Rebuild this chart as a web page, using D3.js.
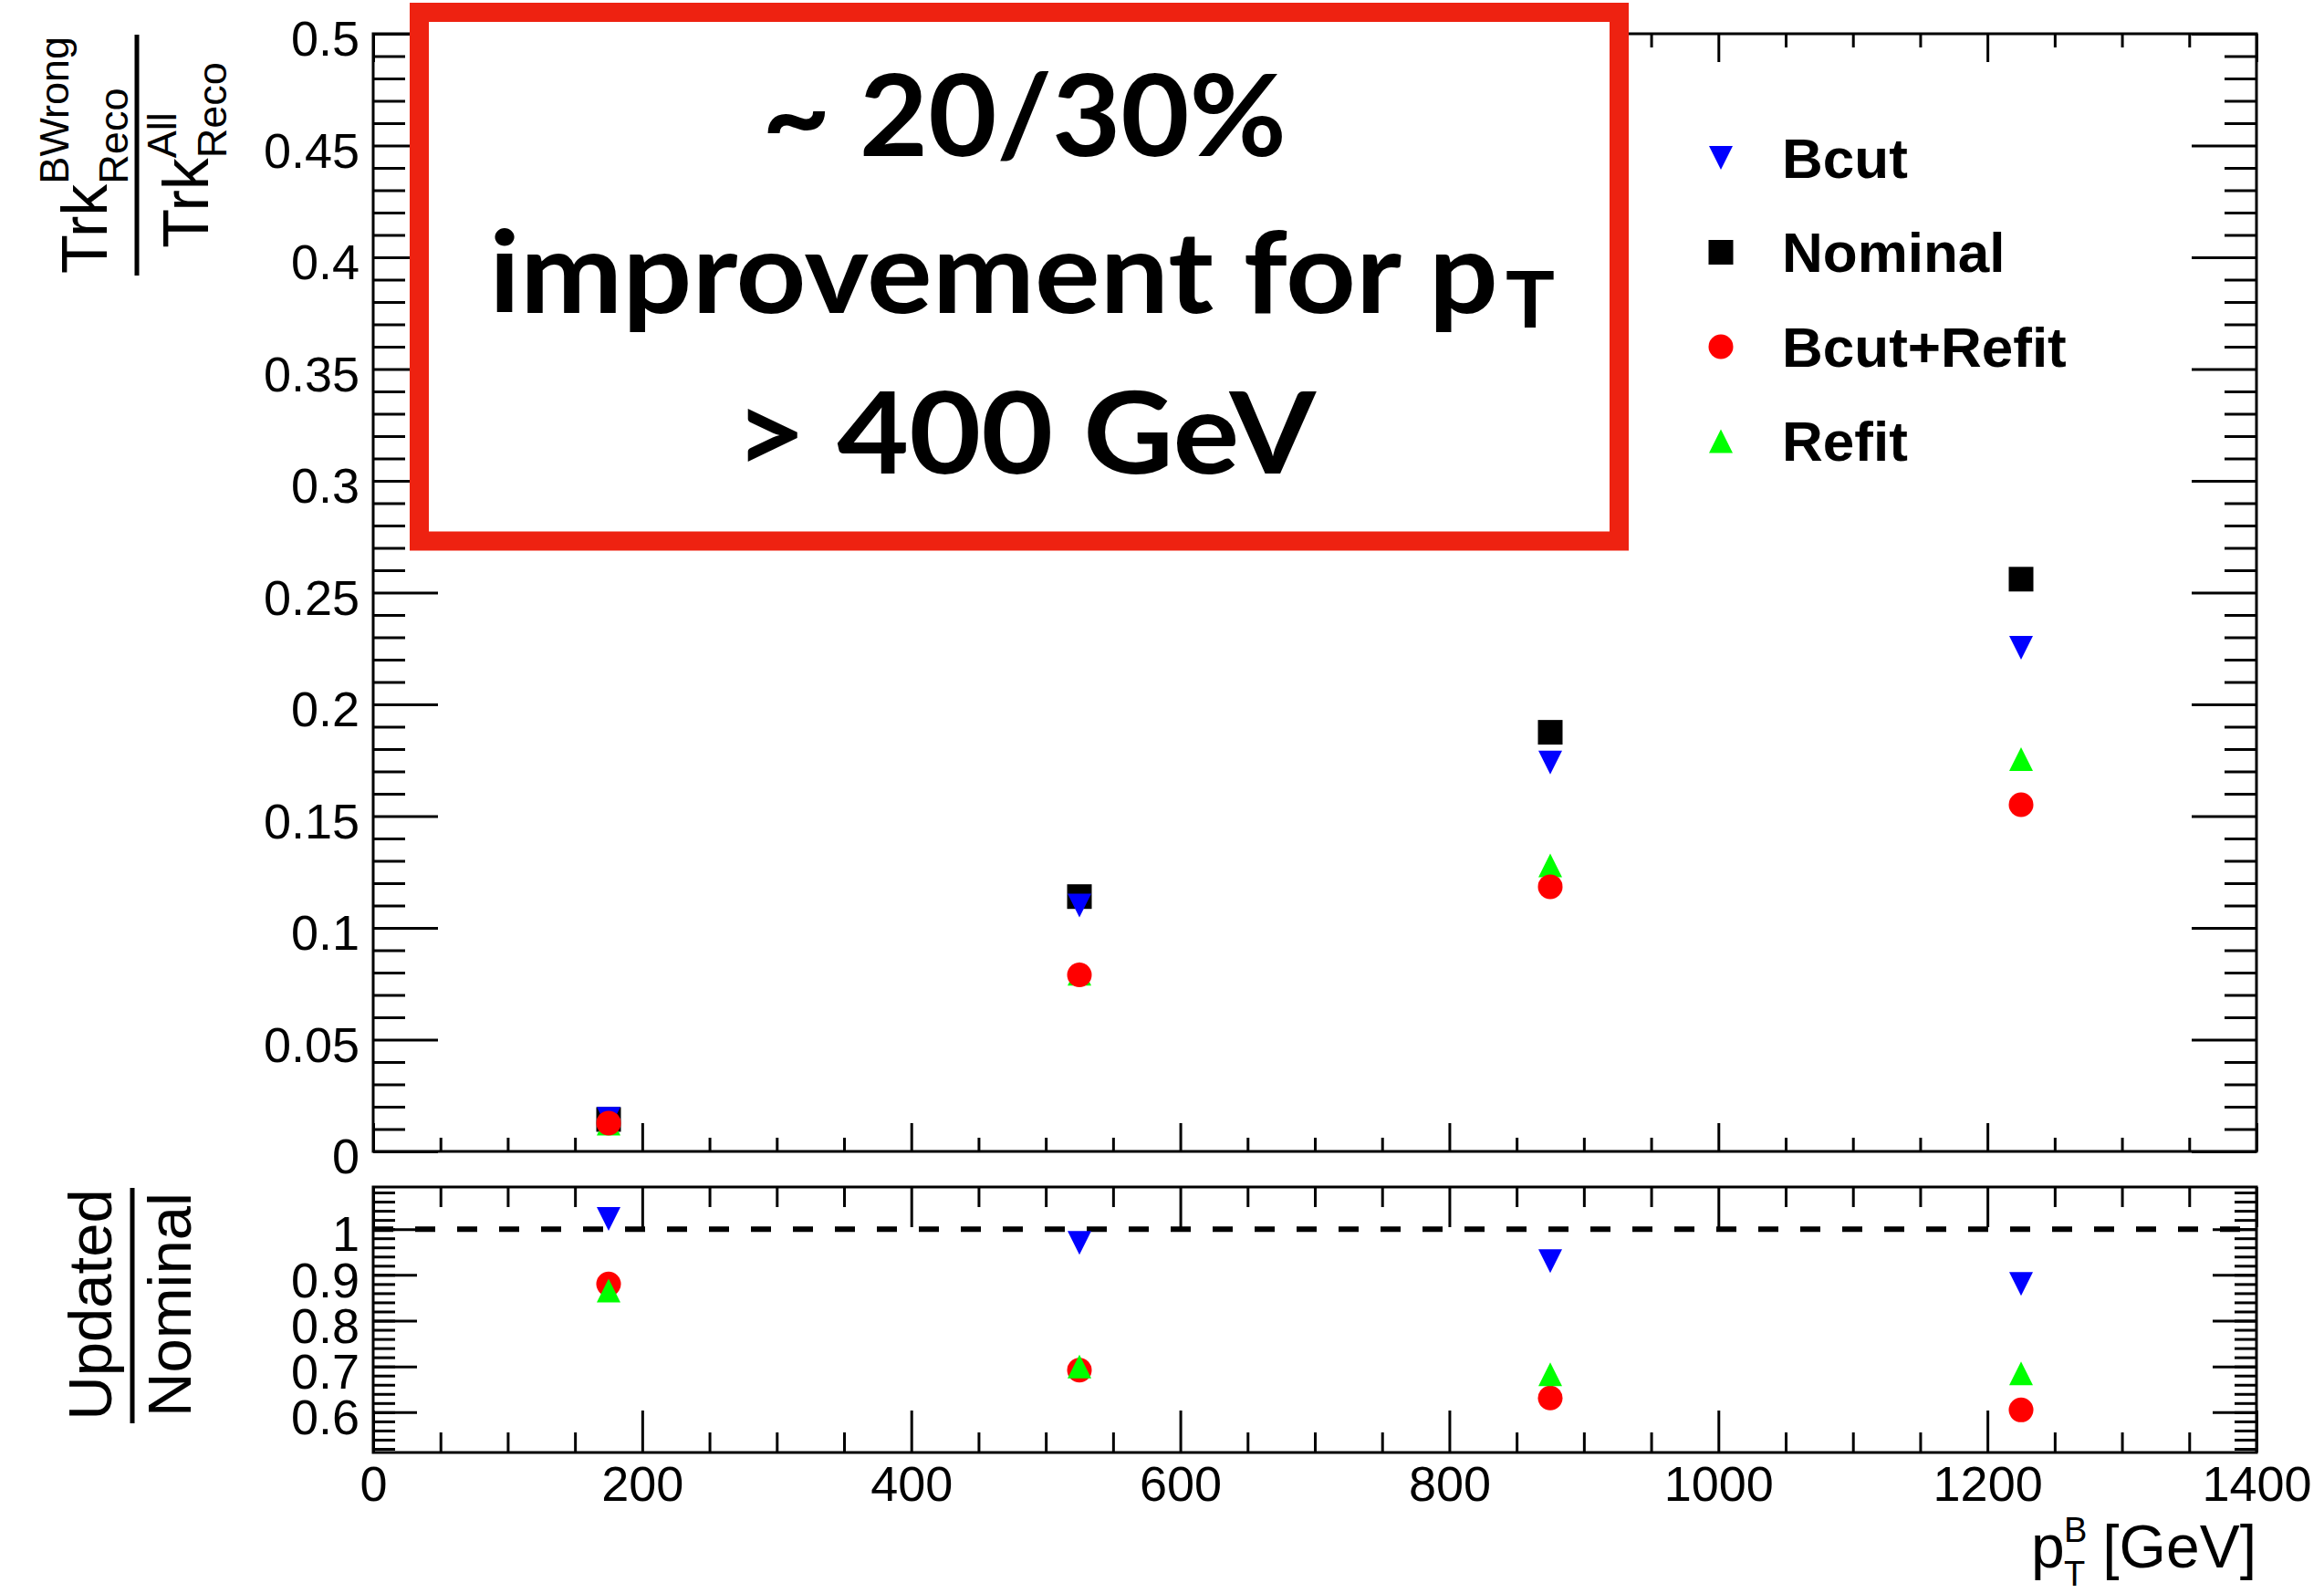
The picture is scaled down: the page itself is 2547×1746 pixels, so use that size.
<!DOCTYPE html>
<html>
<head>
<meta charset="utf-8">
<script src="https://cdnjs.cloudflare.com/ajax/libs/d3/7.8.5/d3.min.js"></script>
<style>
  body { margin: 0; background: #fff; }
  svg { display: block; }
</style>
</head>
<body>
<div id="chart"></div>
<script>
// bin centres of the B-hadron pT bins [GeV]
var ptBins = [175, 525, 875, 1225];

// fraction of wrongly associated tracks
var nominal   = [0.0143, 0.1140, 0.1875, 0.2560];
var bcut      = [0.0146, 0.1100, 0.1740, 0.2253];
var bcutRefit = [0.0127, 0.0790, 0.1184, 0.1551];
var refit     = [0.0125, 0.0795, 0.1280, 0.1755];

// ratio to nominal (lower pad)
var bcutRatio      = [1.022, 0.970, 0.930, 0.880];
var bcutRefitRatio = [0.880, 0.692, 0.631, 0.605];
var refitRatio     = [0.866, 0.700, 0.683, 0.685];

var legendLabels = ['Bcut', 'Nominal', 'Bcut+Refit', 'Refit'];
var boxLines = ['~ 20/30%', 'improvement for p', '> 400 GeV'];

var W = 2547, H = 1746;
var frameL = 409, frameR = 2473;
var topT = 37, topB = 1262;
var botT = 1301, botB = 1592;
var sans = '"Liberation Sans", Arial, Helvetica, sans-serif';
var red = '#ee2211';

var x = d3.scaleLinear().domain([0, 1400]).range([frameL, frameR]);
var yTop = d3.scaleLinear().domain([0, 0.5]).range([topB, topT]);
var yBot = d3.scaleLinear().domain([0.512, 1.092]).range([botB, botT]);

var svg = d3.select('#chart').append('svg')
  .attr('width', W)
  .attr('height', H);

svg.append('rect').attr('width', W).attr('height', H).attr('fill', '#fff');

var fmt = function(d) { return String(+d.toFixed(2)); };
var none = function() { return ''; };

// ROOT style ticks: drawn inwards on all four sides
var drawTicks = function drawTicks(axisFn, scale, tx, ty, values, len, format) {
  var ax = axisFn(scale)
    .tickValues(values)
    .tickSizeInner(-len)
    .tickSizeOuter(0)
    .tickPadding(15)
    .tickFormat(format || none);
  var g = svg.append('g')
    .attr('transform', 'translate(' + tx + ',' + ty + ')')
    .call(ax);
  g.select('.domain').remove();
  g.attr('font-family', sans).attr('font-size', 54);
  g.selectAll('.tick line').attr('stroke', '#000').attr('stroke-width', 3);
  g.selectAll('.tick text').attr('fill', '#000');
  return g;
};

var xMajor = d3.range(0, 1401, 200);
var xMinor = d3.range(0, 1401, 50).filter(function(v) { return v % 200 !== 0; });
var yTopMajor = d3.range(0, 11).map(function(i) { return i * 0.05; });
var yTopMinor = d3.range(0, 51).map(function(i) { return i * 0.01; }).filter(function(v, i) { return i % 5 !== 0; });
var yBotMajor = [0.6, 0.7, 0.8, 0.9, 1.0];
var yBotMinor = d3.range(0, 29).map(function(i) { return 0.52 + i * 0.02; });

/* upper pad */
drawTicks(d3.axisBottom, x, 0, topB, xMajor, 31);
drawTicks(d3.axisBottom, x, 0, topB, xMinor, 15);
drawTicks(d3.axisTop, x, 0, topT, xMajor, 31);
drawTicks(d3.axisTop, x, 0, topT, xMinor, 15);
drawTicks(d3.axisLeft, yTop, frameL, 0, yTopMajor, 71, fmt)
  .selectAll('.tick text').attr('dy', '0.44em');
drawTicks(d3.axisLeft, yTop, frameL, 0, yTopMinor, 35);
drawTicks(d3.axisRight, yTop, frameR, 0, yTopMajor, 71);
drawTicks(d3.axisRight, yTop, frameR, 0, yTopMinor, 35);

svg.append('rect')
  .attr('x', frameL).attr('y', topT)
  .attr('width', frameR - frameL).attr('height', topB - topT)
  .attr('fill', 'none').attr('stroke', '#000').attr('stroke-width', 3);

/* lower pad */
drawTicks(d3.axisBottom, x, 0, botB, xMajor, 46, fmt);
drawTicks(d3.axisBottom, x, 0, botB, xMinor, 22);
drawTicks(d3.axisTop, x, 0, botT, xMajor, 44);
drawTicks(d3.axisTop, x, 0, botT, xMinor, 22);
drawTicks(d3.axisLeft, yBot, frameL, 0, yBotMajor, 48, fmt)
  .selectAll('.tick text').attr('dy', '0.44em');
drawTicks(d3.axisLeft, yBot, frameL, 0, yBotMinor, 24);
drawTicks(d3.axisRight, yBot, frameR, 0, yBotMajor, 48);
drawTicks(d3.axisRight, yBot, frameR, 0, yBotMinor, 24);

svg.append('rect')
  .attr('x', frameL).attr('y', botT)
  .attr('width', frameR - frameL).attr('height', botB - botT)
  .attr('fill', 'none').attr('stroke', '#000').attr('stroke-width', 3);

svg.append('line')
  .attr('x1', frameL).attr('x2', frameR)
  .attr('y1', yBot(1)).attr('y2', yBot(1))
  .attr('stroke', '#000').attr('stroke-width', 6)
  .attr('stroke-dasharray', '22,24');

/* markers */
var markerPath = function markerPath(type) {
  var s = 13;
  if (type === 'down') return 'M' + (-s) + ',' + (-s) + 'L' + s + ',' + (-s) + 'L0,' + s + 'Z';
  if (type === 'up') return 'M0,' + (-s) + 'L' + s + ',' + s + 'L' + (-s) + ',' + s + 'Z';
  if (type === 'square') return 'M-13.5,-13.5H13.5V13.5H-13.5Z';
  return d3.arc()({ innerRadius: 0, outerRadius: 13.5, startAngle: 0, endAngle: 2 * Math.PI });
};

var series = {
  bcut:      { type: 'down',   color: '#0000ff' },
  nominal:   { type: 'square', color: '#000000' },
  bcutRefit: { type: 'circle', color: '#ff0000' },
  refit:     { type: 'up',     color: '#00ff00' }
};

var drawPoints = function drawPoints(values, s, yScale) {
  svg.append('g').selectAll('path')
    .data(values)
    .join('path')
    .attr('d', markerPath(s.type))
    .attr('fill', s.color)
    .attr('transform', function(d, i) {
      return 'translate(' + x(ptBins[i]) + ',' + yScale(d) + ')';
    });
};

drawPoints(nominal, series.nominal, yTop);
drawPoints(bcut, series.bcut, yTop);
drawPoints(refit, series.refit, yTop);
drawPoints(bcutRefit, series.bcutRefit, yTop);

drawPoints(bcutRatio, series.bcut, yBot);
drawPoints(bcutRefitRatio, series.bcutRefit, yBot);
drawPoints(refitRatio, series.refit, yBot);

/* legend */
var legendKeys = ['bcut', 'nominal', 'bcutRefit', 'refit'];
var legend = svg.append('g');
legendKeys.forEach(function(k, i) {
  var ly = 173 + i * 103.5;
  legend.append('path')
    .attr('d', markerPath(series[k].type))
    .attr('fill', series[k].color)
    .attr('transform', 'translate(1886,' + ly + ')');
  legend.append('text')
    .attr('x', 1953).attr('y', ly).attr('dy', '0.35em')
    .attr('font-family', sans).attr('font-weight', 'bold').attr('font-size', 62)
    .attr('fill', '#000')
    .text(legendLabels[i]);
});

/* axis titles */
var yt = svg.append('g').attr('transform', 'rotate(-90)')
  .attr('font-family', sans).attr('fill', '#000');

var fracCentre = -170;
var num = yt.append('text').attr('y', 117).attr('font-size', 70).text('Trk');
var numSup = yt.append('text').attr('y', 75).attr('font-size', 45).text('BWrong');
var numSub = yt.append('text').attr('y', 140).attr('font-size', 45).text('Reco');
var nW = num.node().getComputedTextLength();
var nS = Math.max(numSup.node().getComputedTextLength(), numSub.node().getComputedTextLength());
var n0 = fracCentre - (nW + nS) / 2;
num.attr('x', n0);
numSup.attr('x', n0 + nW);
numSub.attr('x', n0 + nW);

yt.append('line')
  .attr('x1', -302).attr('x2', -38)
  .attr('y1', 150).attr('y2', 150)
  .attr('stroke', '#000').attr('stroke-width', 5);

var den = yt.append('text').attr('y', 228).attr('font-size', 70).text('Trk');
var denSup = yt.append('text').attr('y', 193).attr('font-size', 45).text('All');
var denSub = yt.append('text').attr('y', 248).attr('font-size', 45).text('Reco');
var dW = den.node().getComputedTextLength();
var dS = Math.max(denSup.node().getComputedTextLength(), denSub.node().getComputedTextLength());
var d0 = fracCentre - (dW + dS) / 2;
den.attr('x', d0);
denSup.attr('x', d0 + dW);
denSub.attr('x', d0 + dW);

var ratioCentre = -1430;
yt.append('text').attr('x', ratioCentre).attr('y', 122)
  .attr('text-anchor', 'middle').attr('font-size', 67).text('Updated');
yt.append('line')
  .attr('x1', -1560).attr('x2', -1302)
  .attr('y1', 145).attr('y2', 145)
  .attr('stroke', '#000').attr('stroke-width', 5);
yt.append('text').attr('x', ratioCentre).attr('y', 209)
  .attr('text-anchor', 'middle').attr('font-size', 67).text('Nominal');

var xt = svg.append('g').attr('font-family', sans).attr('fill', '#000');
xt.append('text').attr('x', frameR).attr('y', 1718)
  .attr('text-anchor', 'end').attr('font-size', 66).text('[GeV]');
xt.append('text').attr('x', 2226).attr('y', 1718).attr('font-size', 66).text('p');
xt.append('text').attr('x', 2262).attr('y', 1738).attr('font-size', 38).text('T');
xt.append('text').attr('x', 2262).attr('y', 1690).attr('font-size', 38).text('B');

/* highlighted comment box */
svg.append('rect')
  .attr('x', 459.5).attr('y', 13.5)
  .attr('width', 1315).attr('height', 579.5)
  .attr('fill', '#fff').attr('stroke', red).attr('stroke-width', 21);

var bt = svg.append('g')
  .attr('font-family', 'Lato, "Open Sans", sans-serif')
  .attr('font-weight', 700).attr('fill', '#000');
bt.append('text').attr('x', 835).attr('y', 171).attr('font-size', 124)
  .attr('textLength', 575).attr('lengthAdjust', 'spacingAndGlyphs').text(boxLines[0]);
bt.append('text').attr('x', 536).attr('y', 343).attr('font-size', 124)
  .attr('textLength', 1106).attr('lengthAdjust', 'spacingAndGlyphs').text(boxLines[1]);
bt.append('text').attr('x', 1650).attr('y', 359).attr('font-size', 86)
  .attr('textLength', 54).attr('lengthAdjust', 'spacingAndGlyphs').text('T');
bt.append('text').attr('x', 805).attr('y', 519).attr('font-size', 124)
  .attr('textLength', 637).attr('lengthAdjust', 'spacingAndGlyphs').text(boxLines[2]);
</script>
</body>
</html>
